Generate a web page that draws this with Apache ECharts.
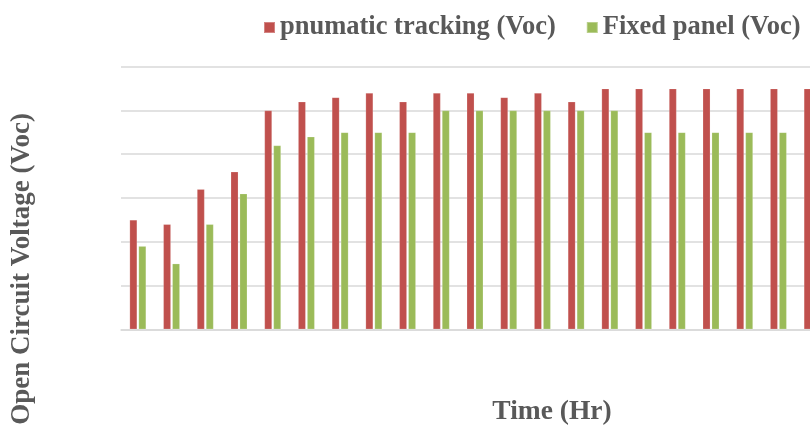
<!DOCTYPE html>
<html>
<head>
<meta charset="utf-8">
<script src="https://cdn.jsdelivr.net/npm/echarts@6/dist/echarts.min.js"></script>
<style>
  html, body { margin: 0; padding: 0; background: #fff; }
  #chart { width: 810px; height: 428px; }
</style>
</head>
<body>
<div id="chart"></div>
<script>
// Hourly readings
const hours = ['1','2','3','4','5','6','7','8','9','10','11','12','13','14','15','16','17','18','19','20','21'];
const trackingVoc = [12.5, 12, 16, 18, 25, 26, 26.5, 27, 26, 27, 27, 26.5, 27, 26, 27.5, 27.5, 27.5, 27.5, 27.5, 27.5, 27.5];
const fixedVoc    = [9.5, 7.5, 12, 15.5, 21, 22, 22.5, 22.5, 22.5, 25, 25, 25, 25, 25, 25, 22.5, 22.5, 22.5, 22.5, 22.5, 22.5];
const seriesNames = ['pnumatic tracking (Voc)', 'Fixed panel (Voc)'];
const axisTitles = { x: 'Time (Hr)', y: 'Open Circuit Voltage (Voc)' };

const serif = "'Liberation Serif', 'Times New Roman', serif";
const textGrey = '#595959';
const gridGrey = '#d9d9d9';

const chart = echarts.init(document.getElementById('chart'));
chart.setOption({
  animation: false,
  backgroundColor: '#ffffff',
  legend: {
    data: seriesNames,
    left: 258,
    top: 9,
    itemWidth: 11,
    itemHeight: 11,
    itemGap: 30,
    icon: 'rect',
    textStyle: { fontFamily: serif, fontWeight: 'bold', fontSize: 26.5, color: textGrey }
  },
  // plot area runs past the right edge of the canvas
  grid: { left: 121, top: 66.7, height: 262.6, width: 708, containLabel: false, outerBoundsMode: 'none' },
  xAxis: {
    type: 'category',
    data: hours,
    axisLine: { lineStyle: { color: gridGrey, width: 1.5 } },
    axisTick: { show: false },
    axisLabel: { show: false }
  },
  yAxis: {
    type: 'value',
    min: 0,
    max: 30,
    interval: 5,
    axisLine: { show: false },
    axisTick: { show: false },
    axisLabel: { show: false },
    splitLine: { lineStyle: { color: gridGrey, width: 1.5 } }
  },
  series: [
    {
      name: seriesNames[0],
      type: 'bar',
      data: trackingVoc,
      barWidth: 7.6,
      barGap: '18%',
      itemStyle: { color: '#C0504D', borderColor: 'rgba(255,255,255,0.3)', borderWidth: 0.6 }
    },
    {
      name: seriesNames[1],
      type: 'bar',
      data: fixedVoc,
      barWidth: 7.6,
      barGap: '18%',
      itemStyle: { color: '#9BBB59', borderColor: 'rgba(255,255,255,0.3)', borderWidth: 0.6 }
    }
  ],
  graphic: [
    {
      type: 'text',
      x: 22,
      y: 269,
      rotation: Math.PI / 2,
      style: {
        text: axisTitles.y,
        fontFamily: serif,
        fontWeight: 'bold',
        fontSize: 27,
        fill: textGrey,
        align: 'center',
        verticalAlign: 'middle'
      }
    },
    {
      type: 'text',
      x: 552,
      y: 412,
      style: {
        text: axisTitles.x,
        fontFamily: serif,
        fontWeight: 'bold',
        fontSize: 27.5,
        fill: textGrey,
        align: 'center',
        verticalAlign: 'middle'
      }
    }
  ]
});
</script>
</body>
</html>
